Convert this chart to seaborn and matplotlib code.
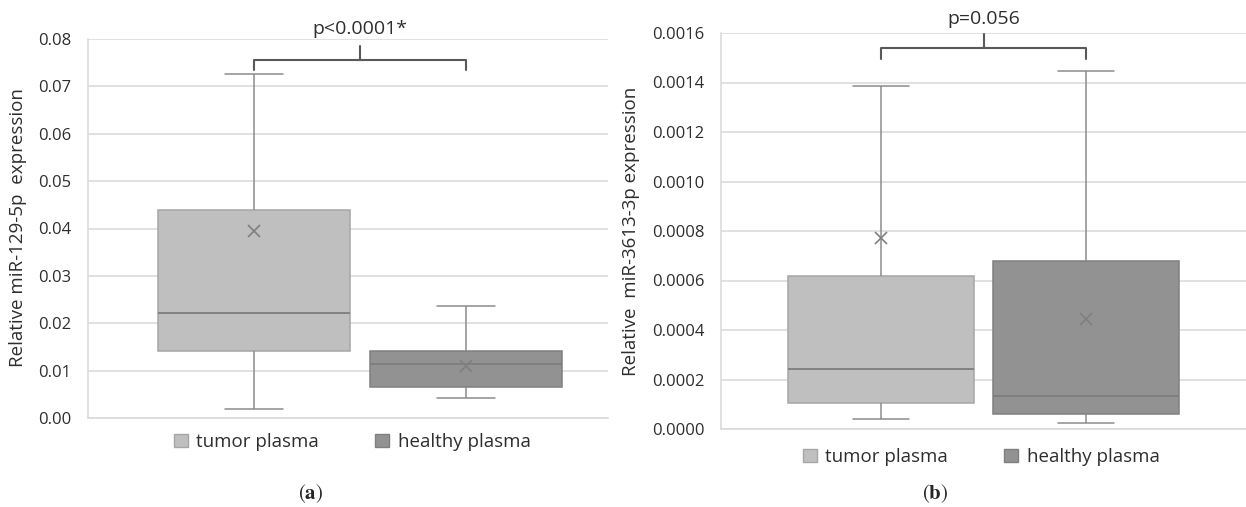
import numpy as np
import pandas as pd
import matplotlib
matplotlib.use("Agg")
import matplotlib.pyplot as plt
import seaborn as sns
from matplotlib.patches import Patch

# Groups shown in both panels
groups = ["tumor plasma", "healthy plasma"]

# (a) miR-129-5p: five-number summaries and means per group
a_min = [0.0020, 0.0043]
a_q1 = [0.0141, 0.0066]
a_med = [0.0222, 0.0115]
a_q3 = [0.0438, 0.0141]
a_max = [0.0726, 0.0236]
a_mean = [0.0394, 0.0110]
a_ticks = [0.00, 0.01, 0.02, 0.03, 0.04, 0.05, 0.06, 0.07, 0.08]

# (b) miR-3613-3p: five-number summaries and means per group
b_min = [0.000040, 0.000023]
b_q1 = [0.000104, 0.000060]
b_med = [0.000242, 0.000132]
b_q3 = [0.000620, 0.000680]
b_max = [0.001386, 0.001447]
b_mean = [0.000772, 0.000444]
b_ticks = [0.0000, 0.0002, 0.0004, 0.0006, 0.0008, 0.0010, 0.0012, 0.0014, 0.0016]

p_texts = ["p<0.0001*", "p=0.056"]

box_fill = ["#bfbfbf", "#929292"]
box_edge = ["#a6a6a6", "#7f7f7f"]
line_gray = "#8c8c8c"
median_gray = "#7d7d7d"
text_col = "#2e2e2e"

sns.set_theme(style="white")
plt.rcParams["font.family"] = ["Open Sans", "DejaVu Sans"]
plt.rcParams["mathtext.fontset"] = "stix"


def five_number_frame(mins, q1s, meds, q3s, maxs):
    # five values per group: with whiskers at 0/100 percent the box shows exactly these
    rows = []
    for g, lo, q1, m, q3, hi in zip(groups, mins, q1s, meds, q3s, maxs):
        for v in (lo, q1, m, q3, hi):
            rows.append({"group": g, "value": v})
    return pd.DataFrame(rows)


W, H = 1246, 507
fig = plt.figure(figsize=(W / 100, H / 100), dpi=100)


def px_axes(l, t, r, b):
    return fig.add_axes([l / W, 1 - b / H, (r - l) / W, (b - t) / H])


def draw_panel(ax, df, means, ticks, fmt, xlim, bracket, p_text):
    sns.boxplot(data=df, x="group", y="value", hue="group", order=groups,
                hue_order=groups, palette=box_fill, width=0.906, whis=(0, 100),
                showfliers=False, linecolor=line_gray, linewidth=1.1,
                legend=False, ax=ax, capwidths=0.27,
                medianprops=dict(color=median_gray, linewidth=1.3))
    for patch, ec in zip(ax.patches, box_edge):
        patch.set_edgecolor(ec)
    sns.pointplot(x=groups, y=means, order=groups, color="#7f7f7f", marker="x",
                  linestyle="none", markersize=9, markeredgewidth=1.2,
                  errorbar=None, ax=ax, zorder=5)

    ax.set_ylim(ticks[0], ticks[-1])
    ax.set_yticks(ticks)
    ax.set_yticklabels([fmt.format(t) for t in ticks], fontsize=12, color=text_col)
    ax.set_xticks([])
    ax.set_xlim(*xlim)
    ax.set_xlabel("")
    ax.set_ylabel("")
    ax.grid(axis="y", color="#d9d9d9", linewidth=1.1)
    ax.set_axisbelow(True)
    for side in ("top", "right"):
        ax.spines[side].set_visible(False)
    for side in ("left", "bottom"):
        ax.spines[side].set_color("#d9d9d9")
        ax.spines[side].set_linewidth(1.1)
    ax.tick_params(axis="y", length=0, pad=12)

    # significance bracket between the two groups
    y, drop, rise, ty = bracket
    x0, x1 = 0, len(groups) - 1
    xm = (x0 + x1) / 2
    kw = dict(color="#595959", linewidth=1.5, clip_on=False, solid_capstyle="round",
              solid_joinstyle="round")
    ax.plot([x0, x0, x1, x1], [y - drop, y, y, y - drop], **kw)
    ax.plot([xm, xm], [y, y + rise], **kw)
    ax.text(xm, ty, p_text, ha="center", va="center", fontsize=14, color=text_col,
            clip_on=False)


ax_a = px_axes(88, 39, 608, 418)
ax_b = px_axes(721, 33, 1246, 429)

draw_panel(ax_a, five_number_frame(a_min, a_q1, a_med, a_q3, a_max), a_mean,
           a_ticks, "{:.2f}", (-0.783, 1.67), (0.0755, 0.0021, 0.0030, 0.0821), p_texts[0])
draw_panel(ax_b, five_number_frame(b_min, b_q1, b_med, b_q3, b_max), b_mean,
           b_ticks, "{:.4f}", (-0.78, 1.78), (0.00154, 0.000045, 0.000057, 0.001655), p_texts[1])

# axis titles
fig.text(18 / W, 1 - 228 / H, "Relative miR-129-5p  expression", rotation=90,
         ha="center", va="center", fontsize=13.5, color=text_col)
fig.text(631 / W, 1 - 231 / H, "Relative  miR-3613-3p expression", rotation=90,
         ha="center", va="center", fontsize=13.5, color=text_col)

# legends below each panel
handles = [Patch(facecolor=f, edgecolor=e) for f, e in zip(box_fill, box_edge)]
for cx, cy in ((352, 442), (981, 457)):
    leg = fig.legend(handles=handles, labels=groups, loc="center",
                     bbox_to_anchor=(cx / W, 1 - cy / H), ncol=2, frameon=False,
                     fontsize=13.5, handlelength=0.75, handleheight=0.75,
                     handletextpad=0.45, columnspacing=3.0)
    for t in leg.get_texts():
        t.set_color(text_col)

# panel captions
fig.text(311 / W, 1 - 494 / H, r"$(\mathbf{a})$", ha="center", va="center", fontsize=15)
fig.text(935 / W, 1 - 494 / H, r"$(\mathbf{b})$", ha="center", va="center", fontsize=15)

fig.savefig("out.png", dpi=100, facecolor="white")
